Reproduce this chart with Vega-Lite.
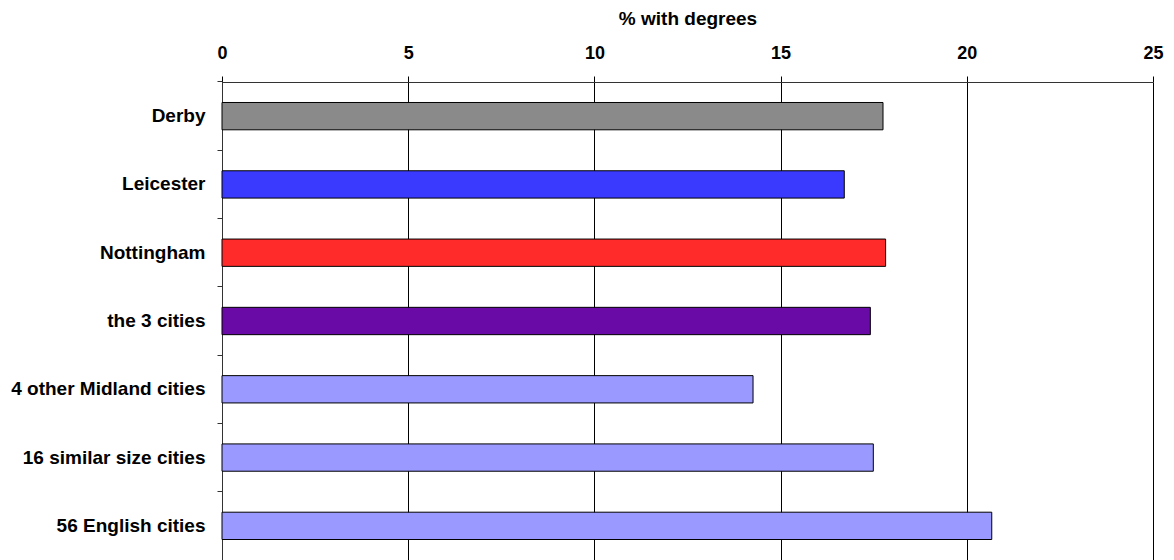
{
  "$schema": "https://vega.github.io/schema/vega-lite/v6.json",
  "width": 931,
  "height": 478,
  "autosize": {"type": "none"},
  "padding": {"left": 222, "top": 82, "right": 21, "bottom": 0},
  "background": "white",
  "data": {
    "values": [
      {"area": "Derby", "pct": 17.75, "color": "#8a8a8a"},
      {"area": "Leicester", "pct": 16.71, "color": "#3a3aff"},
      {"area": "Nottingham", "pct": 17.82, "color": "#ff2a2a"},
      {"area": "the 3 cities", "pct": 17.41, "color": "#6a0aa6"},
      {"area": "4 other Midland cities", "pct": 14.26, "color": "#9999ff"},
      {"area": "16 similar size cities", "pct": 17.49, "color": "#9999ff"},
      {"area": "56 English cities", "pct": 20.67, "color": "#9999ff"}
    ]
  },
  "mark": {"type": "bar", "height": {"band": 0.4}, "stroke": "#000000", "strokeWidth": 1},
  "encoding": {
    "y": {
      "field": "area",
      "type": "nominal",
      "sort": null,
      "scale": {"paddingInner": 0, "paddingOuter": 0},
      "axis": {
        "title": null,
        "bandPosition": 0,
        "domainColor": "#333333",
        "tickColor": "#333333",
        "tickSize": 5,
        "labelPadding": 12,
        "labelLimit": 0,
        "labelFont": "Liberation Sans",
        "labelFontWeight": "bold",
        "labelFontSize": 19,
        "labelColor": "#000000",
        "grid": false
      }
    },
    "x": {
      "field": "pct",
      "type": "quantitative",
      "scale": {"domain": [0, 25], "nice": false},
      "axis": {
        "orient": "top",
        "title": "% with degrees",
        "titleFont": "Liberation Sans",
        "titleFontWeight": "bold",
        "titleFontSize": 19,
        "titleColor": "#000000",
        "titlePadding": 16,
        "values": [0, 5, 10, 15, 20, 25],
        "domainColor": "#333333",
        "tickColor": "#000000",
        "tickSize": 6,
        "labelPadding": 14,
        "labelFlush": false,
        "labelFont": "Liberation Sans",
        "labelFontWeight": "bold",
        "labelFontSize": 18,
        "labelColor": "#000000",
        "grid": true,
        "gridColor": "#000000",
        "gridOpacity": 1,
        "gridWidth": 1
      }
    },
    "fill": {"field": "color", "type": "nominal", "scale": null, "legend": null}
  },
  "config": {"view": {"stroke": null}}
}
